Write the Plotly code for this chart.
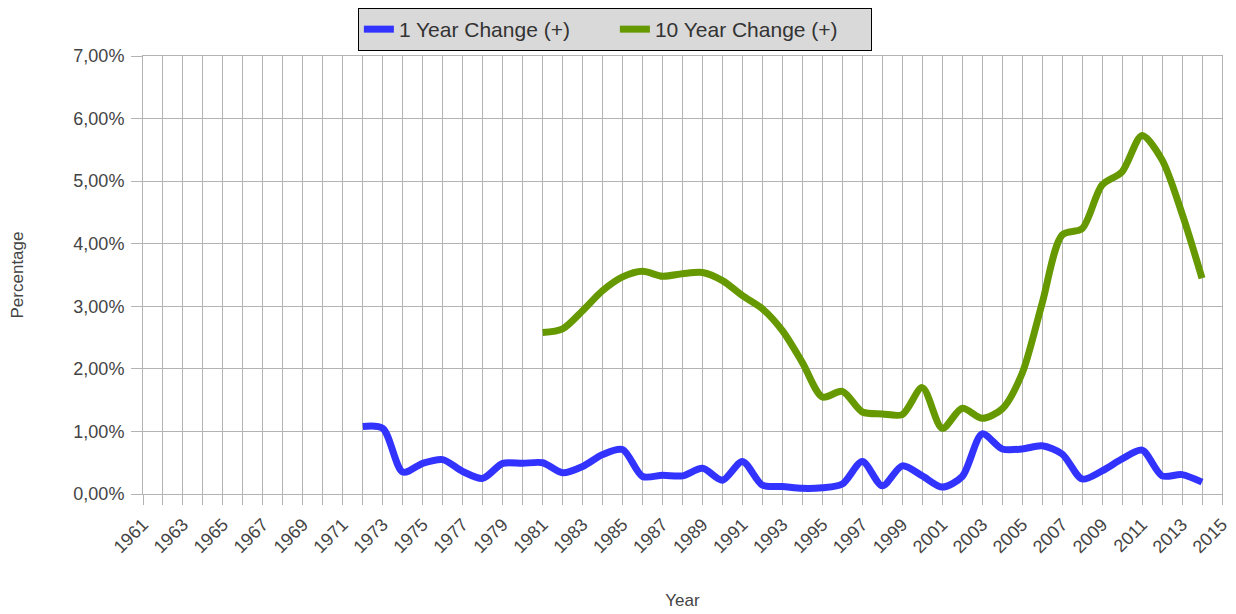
import plotly.graph_objects as go

# Years on the axis
YEARS_1 = list(range(1972, 2015))
YEARS_10 = list(range(1981, 2015))

# 1 year change (%), 1972..2014
ONE_YEAR = [1.08, 1.05, 0.35, 0.49, 0.55, 0.36, 0.25, 0.49, 0.49, 0.50,
            0.34, 0.44, 0.63, 0.71, 0.28, 0.30, 0.29, 0.41, 0.22, 0.52,
            0.14, 0.12, 0.09, 0.10, 0.16, 0.52, 0.13, 0.45, 0.29, 0.11,
            0.28, 0.96, 0.72, 0.72, 0.77, 0.64, 0.24, 0.37, 0.56, 0.70,
            0.29, 0.31, 0.19]

# 10 year change (%), 1981..2014
TEN_YEAR = [2.58, 2.64, 2.93, 3.25, 3.47, 3.56, 3.48, 3.52, 3.54, 3.41,
            3.17, 2.96, 2.61, 2.10, 1.55, 1.64, 1.31, 1.28, 1.27, 1.70,
            1.05, 1.37, 1.21, 1.36, 1.93, 3.05, 4.14, 4.24, 4.94, 5.15,
            5.73, 5.34, 4.48, 3.45]

GRID = "#b3b3b3"
TXT = "#444444"

fig = go.Figure()
fig.add_trace(go.Scatter(x=YEARS_1, y=ONE_YEAR, mode="lines", name="1 Year Change (+)",
                         line=dict(color="#3333ff", width=7, shape="spline", smoothing=0.8)))
fig.add_trace(go.Scatter(x=YEARS_10, y=TEN_YEAR, mode="lines", name="10 Year Change (+)",
                         line=dict(color="#669900", width=7, shape="spline", smoothing=0.8)))

# the page body adds an 8px offset, so margins are shifted to compensate
fig.update_layout(
    width=1236, height=614,
    margin=dict(l=135, r=22, t=48, b=128),
    paper_bgcolor="white", plot_bgcolor="white",
    separators=",.",
    font=dict(family="Liberation Sans, Arial, sans-serif", size=17, color=TXT),
    legend=dict(orientation="h", xref="container", yref="container",
                x=0.491, xanchor="center", y=1.0, yanchor="top",
                bgcolor="#d9d9d9", bordercolor="#000000", borderwidth=1,
                entrywidth=211, font=dict(size=21, color="#333333")),
    showlegend=True,
)
fig.update_xaxes(
    range=[1961, 2015], tick0=1961, dtick=2, tickangle=-45, automargin=False,
    showgrid=True, gridcolor=GRID, gridwidth=1,
    ticks="outside", ticklen=10, tickcolor=GRID, ticklabelstandoff=2,
    minor=dict(dtick=1, showgrid=True, gridcolor=GRID, ticks="outside", ticklen=10, tickcolor=GRID),
    showline=True, linecolor=GRID, mirror=True, zeroline=False,
    title=dict(text="Year", font=dict(size=17, color=TXT), standoff=37),
    tickfont=dict(size=18, color=TXT),
)
fig.update_yaxes(
    range=[0, 7], dtick=1, tickformat=".2f", ticksuffix="%", automargin=False,
    showgrid=True, gridcolor=GRID, gridwidth=1,
    ticks="outside", ticklen=11, tickcolor=GRID, ticklabelstandoff=3,
    showline=True, linecolor=GRID, mirror=True, zeroline=False,
    title=dict(text="Percentage", font=dict(size=17, color=TXT), standoff=48),
    tickfont=dict(size=18, color=TXT),
)

fig.write_html("out.html")
